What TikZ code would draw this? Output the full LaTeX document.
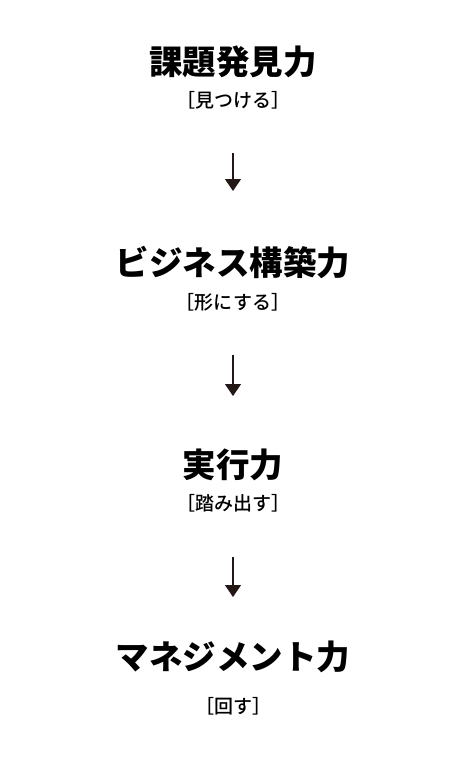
\documentclass[tikz,border=0pt]{standalone}
\usepackage{fontspec}
\newfontfamily\cjk{Noto Sans CJK JP}[BoldFont={Noto Sans CJK JP Black}]
\newfontfamily\cjkmed{Noto Sans CJK JP Medium}
\usetikzlibrary{positioning, arrows.meta}
\definecolor{ink}{HTML}{231815}

\begin{document}
\begin{tikzpicture}[
    x=1pt, y=-1pt,
    title/.style={font=\cjk\bfseries\fontsize{33.5}{33.5}\selectfont, text=black, inner sep=0pt},
    sub/.style={font=\cjkmed\fontsize{19}{19}\selectfont, text=black, inner sep=0pt},
    arrow/.style={draw=ink, line width=1.3pt, -{Triangle[width=16pt,length=12pt]}}
]
\useasboundingbox (0,0) rectangle (460,758);
\node[title] (discover) at (233,62) {課題発見力};
\node[sub] (discoversub) at (233,100) {［見つける］};
\node[title] (business) at (233,263) {ビジネス構築力};
\node[sub] (businesssub) at (233,302) {［形にする］};
\node[title] (execute) at (233,465) {実行力};
\node[sub] (executesub) at (233,503) {［踏み出す］};
\node[title] (manage) at (233,657) {マネジメント力};
\node[sub] (managesub) at (233,706) {［回す］};

\coordinate (a1) at (233,153);
\coordinate (b1) at (233,191);
\coordinate (a2) at (233,355);
\coordinate (b2) at (233,396);
\coordinate (a3) at (233,557);
\coordinate (b3) at (233,597);

\draw [arrow] (a1) -- (b1);
\draw [arrow] (a2) -- (b2);
\draw [arrow] (a3) -- (b3);
\end{tikzpicture}
\end{document}
